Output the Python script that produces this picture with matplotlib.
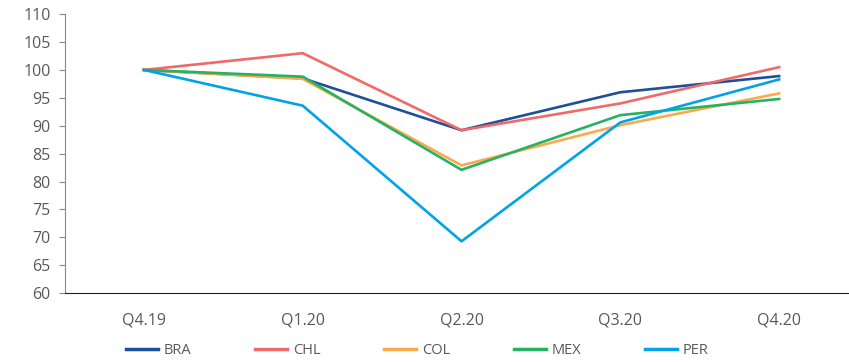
import matplotlib.pyplot as plt

quarters = ['Q4.19', 'Q1.20', 'Q2.20', 'Q3.20', 'Q4.20']
bra = [100, 98.5, 89.2, 96.0, 98.9]
chl = [100, 103.0, 89.2, 94.0, 100.5]
col = [100, 98.4, 82.9, 90.1, 95.8]
mex = [100, 98.8, 82.1, 91.9, 94.8]
per = [100, 93.6, 69.3, 90.6, 98.3]

series = [('BRA', bra, '#1f4e9a'), ('CHL', chl, '#f06a6a'),
          ('COL', col, '#fba94c'), ('MEX', mex, '#27b163'),
          ('PER', per, '#00a3e8')]

plt.rcParams['font.family'] = ['Open Sans', 'DejaVu Sans']
grey = '#595959'

fig = plt.figure(figsize=(8.49, 3.62), dpi=100)
ax = fig.add_axes([0.076, 0.19, 0.924, 0.771])

x = range(len(quarters))
for name, vals, c in series:
    ax.plot(x, vals, color=c, lw=1.9, label=name)

ax.set_ylim(60, 110)
ax.set_yticks(range(60, 111, 5))
ax.set_xlim(-0.5, 4.44)
ax.set_xticks(list(x))
ax.set_xticklabels(quarters)
ax.tick_params(axis='x', length=0, pad=14, labelsize=11.5, colors=grey)
ax.tick_params(axis='y', length=4, pad=6, labelsize=11.5, colors=grey, color='#888888')
for s in ['top', 'right']:
    ax.spines[s].set_visible(False)
ax.spines['left'].set_color('#888888')
ax.spines['bottom'].set_color('#222222')

leg = fig.legend(loc='lower left', bbox_to_anchor=(0.133, -0.025), ncol=5, frameon=False,
                 fontsize=10.5, handlelength=2.2, columnspacing=4.35, handletextpad=0.4)
for t in leg.get_texts():
    t.set_color(grey)
for h in leg.get_lines():
    h.set_linewidth(2.5)

fig.savefig('out.png', dpi=100)
